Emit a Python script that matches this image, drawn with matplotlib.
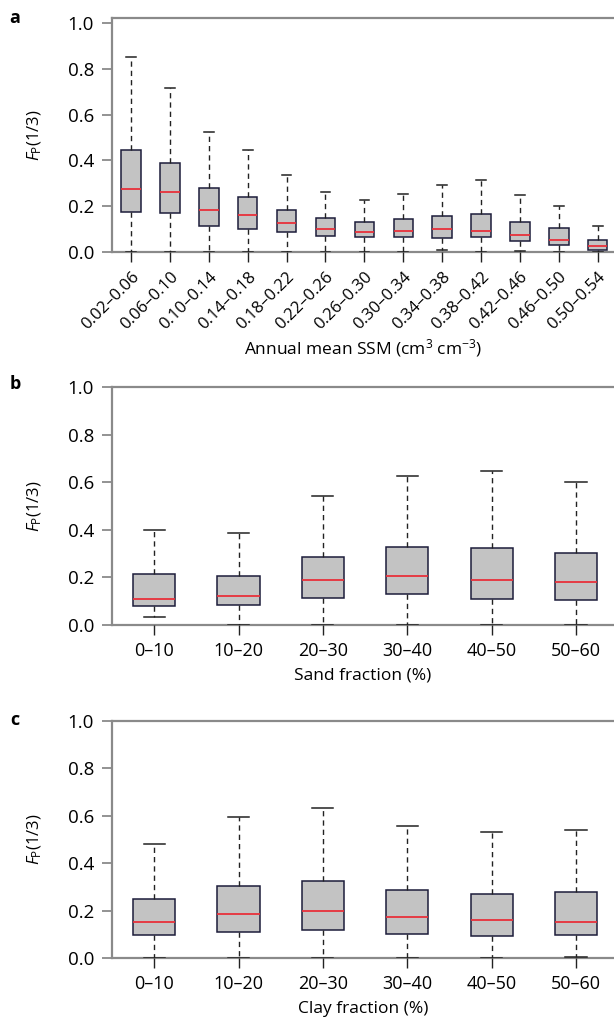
import matplotlib
matplotlib.use("Agg")
import matplotlib.pyplot as plt

plt.rcParams["font.family"] = ["Open Sans", "DejaVu Sans"]
plt.rcParams["mathtext.fontset"] = "custom"
plt.rcParams["mathtext.it"] = "Open Sans:italic"
plt.rcParams["mathtext.rm"] = "Open Sans"

# panel a: annual mean SSM classes
ssm_labels = ["0.02–0.06", "0.06–0.10", "0.10–0.14", "0.14–0.18", "0.18–0.22",
              "0.22–0.26", "0.26–0.30", "0.30–0.34", "0.34–0.38", "0.38–0.42",
              "0.42–0.46", "0.46–0.50", "0.50–0.54"]
ssm_whislo = [0, 0, 0, 0, 0, 0, 0, 0, 0.010, 0, 0.003, 0, 0]
ssm_q1 = [0.173, 0.169, 0.115, 0.102, 0.086, 0.070, 0.066, 0.067, 0.063, 0.064, 0.048, 0.029, 0.007]
ssm_med = [0.275, 0.261, 0.182, 0.160, 0.127, 0.100, 0.087, 0.093, 0.099, 0.093, 0.073, 0.054, 0.025]
ssm_q3 = [0.444, 0.387, 0.279, 0.239, 0.185, 0.147, 0.131, 0.143, 0.156, 0.167, 0.130, 0.103, 0.052]
ssm_whishi = [0.850, 0.715, 0.525, 0.444, 0.336, 0.261, 0.227, 0.253, 0.294, 0.314, 0.247, 0.201, 0.114]

# panel b: sand fraction
frac_labels = ["0–10", "10–20", "20–30", "30–40", "40–50", "50–60"]
sand_whislo = [0.035, 0, 0, 0, 0, 0]
sand_q1 = [0.079, 0.084, 0.114, 0.129, 0.111, 0.104]
sand_med = [0.108, 0.122, 0.187, 0.206, 0.189, 0.180]
sand_q3 = [0.215, 0.205, 0.286, 0.327, 0.325, 0.303]
sand_whishi = [0.400, 0.386, 0.543, 0.624, 0.645, 0.599]

# panel c: clay fraction
clay_whislo = [0, 0, 0, 0, 0, 0.004]
clay_q1 = [0.097, 0.111, 0.119, 0.103, 0.094, 0.096]
clay_med = [0.152, 0.187, 0.197, 0.174, 0.162, 0.152]
clay_q3 = [0.250, 0.303, 0.323, 0.285, 0.270, 0.278]
clay_whishi = [0.480, 0.597, 0.631, 0.556, 0.531, 0.542]

SPINE = "#8a8a8a"
W, H = 614, 1021
LEFT = 112


def stats(lo, q1, med, q3, hi):
    return [dict(whislo=a, q1=b, med=c, q3=d, whishi=e, fliers=[])
            for a, b, c, d, e in zip(lo, q1, med, q3, hi)]


def draw(ax, st, labels, xlim, ylim_top, rotate):
    ax.bxp(st, positions=range(1, len(st) + 1), widths=0.5, patch_artist=True,
           showfliers=False,
           boxprops=dict(facecolor="#c3c3c3", edgecolor="#1c1c3a", linewidth=1.1),
           medianprops=dict(color="#e8303a", linewidth=1.3),
           whiskerprops=dict(color="#222222", linewidth=1.0, linestyle=(0, (3.8, 2.9))),
           capprops=dict(color="#222222", linewidth=1.1), capwidths=0.25)
    ax.set_xlim(*xlim)
    ax.set_ylim(0, ylim_top)
    ax.set_yticks([0, 0.2, 0.4, 0.6, 0.8, 1.0])
    ax.set_yticklabels(["0.0", "0.2", "0.4", "0.6", "0.8", "1.0"])
    ax.set_xticks(range(1, len(labels) + 1))
    if rotate:
        ax.set_xticklabels(labels, rotation=45, ha="right", va="top",
                           rotation_mode="anchor", fontsize=12)
    else:
        ax.set_xticklabels(labels, fontsize=13)
    ax.tick_params(axis="y", direction="out", length=7, width=1.3, color=SPINE,
                   labelsize=13.5, pad=6)
    ax.tick_params(axis="x", direction="out", length=7, width=1.0, color="#222222", pad=5)
    ax.spines["right"].set_visible(False)
    for s in ("left", "top", "bottom"):
        ax.spines[s].set_color(SPINE)
        ax.spines[s].set_linewidth(1.6)
    ax.spines["bottom"].set_zorder(0)
    ax.set_ylabel(r"$F_{\mathrm{P}}$(1/3)", fontsize=12, va="center")
    ax.yaxis.set_label_coords((35 - LEFT) / (W - LEFT), 0.5)


fig = plt.figure(figsize=(W / 100, H / 100), dpi=100)


def add_axes(top, bottom):
    return fig.add_axes([LEFT / W, 1 - bottom / H, (W - LEFT) / W, (bottom - top) / H])


ax_a = add_axes(18, 252)
draw(ax_a, stats(ssm_whislo, ssm_q1, ssm_med, ssm_q3, ssm_whishi), ssm_labels,
     (0.51, 13.42), 1.022, True)
ax_a.set_xlabel("Annual mean SSM (cm$^{3}$ cm$^{-3}$)", fontsize=12.5, labelpad=3)

ax_b = add_axes(387, 625)
draw(ax_b, stats(sand_whislo, sand_q1, sand_med, sand_q3, sand_whishi), frac_labels,
     (0.5, 6.45), 1.0, False)
ax_b.set_xlabel("Sand fraction (%)", fontsize=12.5, labelpad=6)

ax_c = add_axes(721, 958)
draw(ax_c, stats(clay_whislo, clay_q1, clay_med, clay_q3, clay_whishi), frac_labels,
     (0.5, 6.45), 1.0, False)
ax_c.set_xlabel("Clay fraction (%)", fontsize=12.5, labelpad=6)

for letter, x, y in (("a", 15, 18), ("b", 15, 384), ("c", 15, 720)):
    fig.text(x / W, 1 - y / H, letter, fontsize=13, fontweight="bold", ha="center", va="center")

fig.savefig("out.png", dpi=100)
